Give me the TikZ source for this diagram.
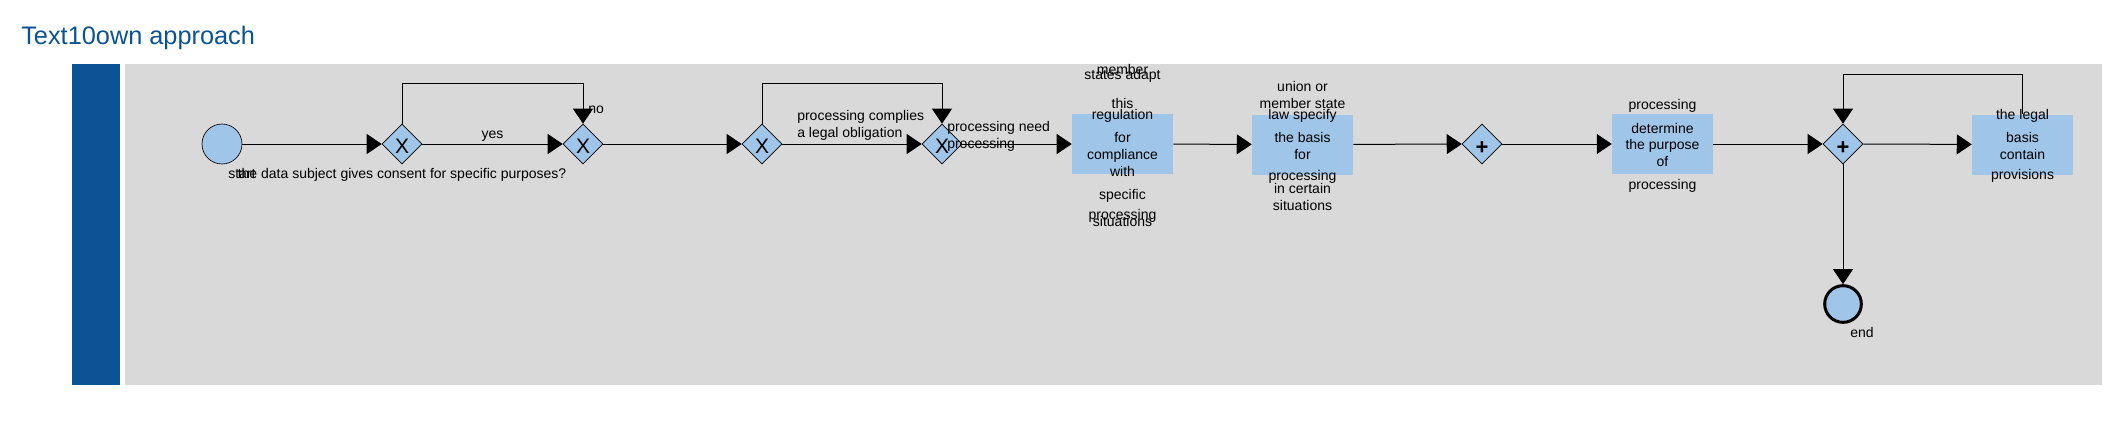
\documentclass[tikz,border=0pt]{standalone}
\usepackage{fontspec}
\setmainfont{Liberation Sans}
\usetikzlibrary{shapes.geometric,arrows.meta}
\definecolor{titleblue}{RGB}{11,83,148}
\definecolor{lanegray}{RGB}{217,217,217}
\definecolor{taskblue}{RGB}{159,197,232}
\begin{document}
\begin{tikzpicture}[x=0.75pt,y=-0.75pt,
  txt/.style={font=\fontsize{10.5pt}{12.6pt}\selectfont, inner sep=0pt, anchor=base},
  txtw/.style={txt, anchor=base west},
  gw/.style={diamond, draw, line width=0.5pt, fill=taskblue, minimum width=30pt, minimum height=30pt, inner sep=0pt, text height=14.3pt, text depth=0pt, font=\fontsize{15.75pt}{16pt}\selectfont},
  gwp/.style={gw, text height=15pt, font=\fontsize{16.5pt}{18pt}\selectfont\bfseries},
  task/.style={rectangle, fill=taskblue, minimum width=75.75pt, minimum height=45pt, inner sep=0pt},
  startev/.style={circle, draw, line width=0.5pt, fill=taskblue, minimum size=30pt, inner sep=0pt},
  endev/.style={circle, draw, line width=2.25pt, fill=taskblue, minimum size=27.5pt, inner sep=0pt},
  flow/.style={draw, line width=0.75pt, -{Triangle[length=11.25pt,width=15pt]}}]
\useasboundingbox (0,0) rectangle (2119,426);
% lane
\fill[lanegray] (125,64) rectangle (2102,385);
\fill[titleblue] (72,64) rectangle (120,385);
\node[anchor=base west, inner sep=0pt, font=\fontsize{19pt}{22pt}\selectfont, text=titleblue] (title) at (21,44) {Text10own approach};
% nodes
\node[startev] (start) at (222,144) {};
\node[gw] (g1) at (402,144) {X};
\node[gw] (g2) at (583,144) {X};
\node[gw] (g3) at (762,144) {X};
\node[gw] (g4) at (942,144) {X};
\node[task] (t1) at (1122.5,144) {};
\node[task] (t2) at (1302.5,144.5) {};
\node[gwp] (g5) at (1482,144) {+};
\node[task] (t3) at (1662.5,144) {};
\node[gwp] (g6) at (1843,144) {+};
\node[task] (t4) at (2022.5,144.5) {};
\node[endev] (end) at (1843,304) {};
% connectors
\draw[flow] (start) -- (g1);
\draw[flow] (g1) -- (g2);
\draw[flow] (g1.north) -- ++(0,-40) -| (g2.north);
\draw[flow] (g2) -- (g3);
\draw[flow] (g3) -- (g4);
\draw[flow] (g3.north) -- ++(0,-40) -| (g4.north);
\draw[flow] (g4) -- (t1);
\draw[flow] (t1) -- (t2);
\draw[flow] (t2) -- (g5);
\draw[flow] (g5) -- (t3);
\draw[flow] (t3) -- (g6);
\draw[flow] (g6) -- (t4);
\draw[flow] (t4.north) -- ++(0,-40) -| (g6.north);
\draw[flow] (g6) -- (end);
% labels
\node[txtw] (lstart) at (228,178) {start};
\node[txt] (lg1) at (402,178) {the data subject gives consent for specific purposes?};
\node[txt] (lyes) at (492.5,138) {yes};
\node[txtw] (lno) at (588,113) {no};
\node[txtw] (lc1) at (797,120) {processing complies};
\node[txtw] (lc2) at (797,137) {a legal obligation};
\node[txtw] (ln1) at (947,131) {processing need};
\node[txtw] (ln2) at (947,148) {processing};
\node[txtw] (lend) at (1850,337) {end};
\foreach \y/\s [count=\i] in {74/member, 79.3/states adapt, 108.3/this, 119.3/regulation, 142.3/for, 159.3/compliance, 176/with, 199/specific, 219.3/processing, 226.7/situations}
  \node[txt] (t1l\i) at (1122.5,\y) {\s};
\foreach \y/\s [count=\i] in {91/union or, 108/member state, 119/law specify, 142/the basis, 159/for, 180/processing, 193/in certain, 210/situations}
  \node[txt] (t2l\i) at (1302.5,\y) {\s};
\foreach \y/\s [count=\i] in {109/processing, 133/determine, 149/the purpose, 166/of, 189/processing}
  \node[txt] (t3l\i) at (1662.5,\y) {\s};
\foreach \y/\s [count=\i] in {119/the legal, 142/basis, 159/contain, 179/provisions}
  \node[txt] (t4l\i) at (2022.5,\y) {\s};
\end{tikzpicture}
\end{document}
